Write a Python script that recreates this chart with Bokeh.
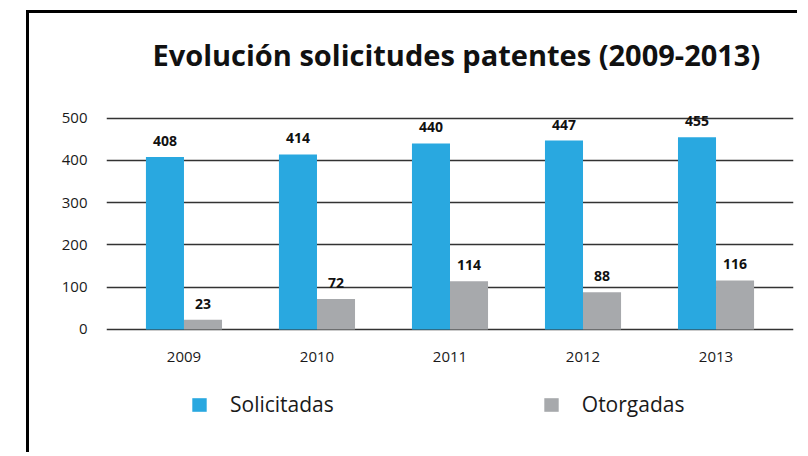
from bokeh.plotting import figure
from bokeh.models import FactorRange, Range1d, FixedTicker, Legend, LegendItem, ColumnDataSource
from bokeh.transform import dodge
from bokeh.core.properties import value
from bokeh.embed import file_html
from bokeh.resources import INLINE

years = ["2009", "2010", "2011", "2012", "2013"]
solicitadas = [408, 414, 440, 447, 455]
otorgadas = [23, 72, 114, 88, 116]
y_ticks = [0, 100, 200, 300, 400, 500]
title_text = "Evolución solicitudes patentes (2009-2013)"
series_names = ["Solicitadas", "Otorgadas"]

BLUE = "#29A8E0"
GRAY = "#A7A9AC"
FONT = "Open Sans"

src = ColumnDataSource(dict(
    year=years,
    sol=solicitadas,
    oto=otorgadas,
    sol_txt=[str(v) for v in solicitadas],
    oto_txt=[str(v) for v in otorgadas],
))

p = figure(
    width=771, height=442,
    x_range=FactorRange(factors=years, range_padding=0.033),
    y_range=Range1d(-244, 563),
    output_backend="svg", toolbar_location=None,
    min_border_left=77, min_border_right=7, min_border_top=78, min_border_bottom=23,
    title=title_text,
)
p.styles = {"border-left": "3px solid black", "border-top": "3px solid black",
            "margin-left": "26px", "margin-top": "10px"}

p.title.text_font = FONT
p.title.text_font_size = "29px"
p.title.text_font_style = "bold"
p.title.text_color = "#111111"
p.title.align = "left"
p.title.offset = 46
p.title.standoff = 36

p.outline_line_color = None
p.background_fill_color = "white"
p.border_fill_color = "white"

bw = 0.286
r1 = p.vbar(x=dodge("year", -bw / 2, range=p.x_range), top="sol", width=bw, source=src,
            fill_color=BLUE, line_color=None)
r2 = p.vbar(x=dodge("year", bw / 2, range=p.x_range), top="oto", width=bw, source=src,
            fill_color=GRAY, line_color=None)

for col, txt, off in (("sol", "sol_txt", -bw / 2), ("oto", "oto_txt", bw / 2)):
    p.text(x=dodge("year", off, range=p.x_range), y=col, text=txt, source=src,
           text_font=value(FONT), text_font_style="bold", text_font_size="14px",
           text_align="center", text_baseline="alphabetic", y_offset=-16,
           text_color="#111111")

p.xgrid.grid_line_color = None
p.ygrid.ticker = FixedTicker(ticks=y_ticks)
p.ygrid.grid_line_color = "#333333"
p.ygrid.grid_line_width = 1.6

p.yaxis.ticker = FixedTicker(ticks=y_ticks)
for ax in (p.xaxis[0], p.yaxis[0]):
    ax.axis_line_color = None
    ax.major_tick_line_color = None
    ax.minor_tick_line_color = None
    ax.major_label_text_font = FONT
    ax.major_label_text_font_size = "15px"
    ax.major_label_text_color = "#1a1a1a"
p.yaxis.major_label_standoff = 13
p.xaxis.major_label_standoff = 17
p.xaxis.fixed_location = 0

legend = Legend(
    items=[LegendItem(label=series_names[0], renderers=[r1]),
           LegendItem(label=series_names[1], renderers=[r2])],
    orientation="horizontal",
    location=(84, 14),
    spacing=208,
    padding=0, margin=0,
    glyph_width=18, glyph_height=17,
    label_standoff=22,
    label_text_font=FONT, label_text_font_size="21px", label_text_color="#1a1a1a",
    border_line_color=None, background_fill_alpha=0,
)
p.add_layout(legend, "center")

open("out.html", "w").write(file_html(p, INLINE))
